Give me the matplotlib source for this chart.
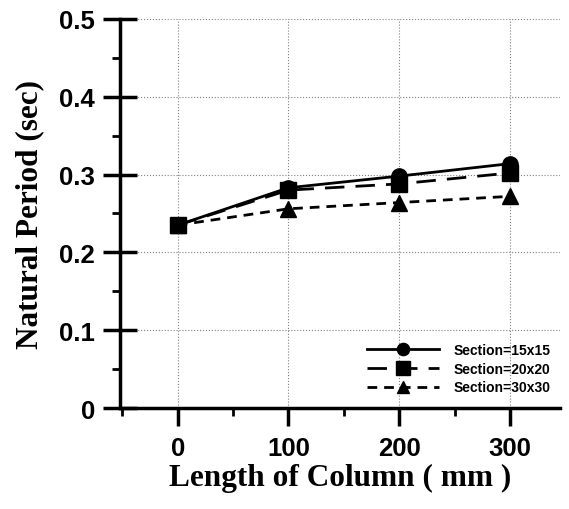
import matplotlib.pyplot as plt
from matplotlib.ticker import MultipleLocator

length = [0, 100, 200, 300]
sec15 = [0.235, 0.283, 0.298, 0.314]
sec20 = [0.235, 0.280, 0.288, 0.302]
sec30 = [0.235, 0.256, 0.264, 0.272]
labels = ["Section=15x15", "Section=20x20", "Section=30x30"]

fig = plt.figure(figsize=(5.69, 5.10), dpi=100)
ax = fig.add_axes([0.211, 0.198, 0.773, 0.763])

ax.plot(length, sec15, '-', color="black", lw=2, marker='o', ms=11, label=labels[0])
ax.plot(length, sec20, color="black", lw=2, ls=(0, (7, 4)), marker='s', ms=12, label=labels[1])
ax.plot(length, sec30, color="black", lw=2, ls=(0, (3.5, 2.5)), marker='^', ms=11, label=labels[2])

ax.set_xlim(-52, 345)
ax.set_ylim(0, 0.5)
ax.set_xticks(length)
ax.set_yticks([0, 0.1, 0.2, 0.3, 0.4, 0.5])
ax.set_yticklabels(["0", "0.1", "0.2", "0.3", "0.4", "0.5"])
ax.xaxis.set_minor_locator(MultipleLocator(50))
ax.yaxis.set_minor_locator(MultipleLocator(0.05))
ax.grid(True, which='major', ls=':', color='gray', lw=0.8)

for s in ['top', 'right']:
    ax.spines[s].set_visible(False)
for s in ['left', 'bottom']:
    ax.spines[s].set_linewidth(2.5)

ax.tick_params(axis='y', which='major', direction='inout', length=24, width=2.5, pad=6)
ax.tick_params(axis='y', which='minor', direction='out', length=6, width=2)
ax.tick_params(axis='x', which='major', direction='out', length=13, width=2.5, pad=7)
ax.tick_params(axis='x', which='minor', direction='out', length=6, width=2)
for t in ax.get_xticklabels() + ax.get_yticklabels():
    t.set_fontfamily('Liberation Sans')
    t.set_fontweight('bold')
    t.set_fontsize(18.5)

ax.set_xlabel('Length of Column ( mm )', fontfamily='Liberation Serif', fontweight='bold', fontsize=22.5, labelpad=2)
ax.set_ylabel('Natural Period (sec)', fontfamily='Liberation Serif', fontweight='bold', fontsize=22.5, labelpad=11)

ax.legend(loc='lower right', bbox_to_anchor=(1.0, 0.01), frameon=False,
          prop={'family': 'Liberation Sans', 'weight': 'bold', 'size': 10},
          handlelength=5.2, handletextpad=1.0, markerscale=0.8, labelspacing=0.35, borderaxespad=0.3)

fig.savefig("out.png")
